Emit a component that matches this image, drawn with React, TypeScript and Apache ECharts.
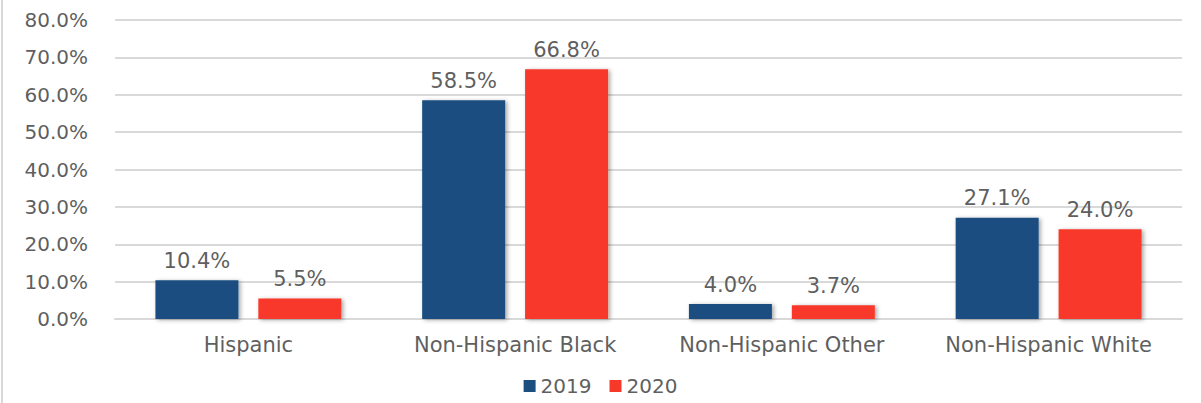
import React, { useEffect, useRef } from "react";
import * as echarts from "echarts";

const categories = ["Hispanic", "Non-Hispanic Black", "Non-Hispanic Other", "Non-Hispanic White"];
const values2019 = [10.4, 58.5, 4.0, 27.1];
const values2020 = [5.5, 66.8, 3.7, 24.0];
const seriesNames = ["2019", "2020"];

const FONT = "DejaVu Sans";
const TEXT = "#5f5f5f";

export default function App() {
  const ref = useRef<HTMLDivElement>(null);
  useEffect(() => {
    document.body.style.margin = "0";
    const chart = echarts.init(ref.current!, null, { renderer: "svg" });
    const barStyle = (color: string) => ({
      color,
      shadowColor: "rgba(0,0,0,0.35)",
      shadowBlur: 4,
      shadowOffsetX: 2,
      shadowOffsetY: 1,
    });
    const label = {
      show: true,
      position: "top" as const,
      distance: 9,
      color: TEXT,
      fontFamily: FONT,
      fontSize: 21,
      formatter: (p: any) => Number(p.value).toFixed(1) + "%",
    };
    chart.setOption({
      animation: false,
      backgroundColor: "#ffffff",
      textStyle: { fontFamily: FONT },
      graphic: [
        { type: "rect", shape: { x: 1, y: 0, width: 2, height: 403 }, style: { fill: "#d9d9d9" } },
      ],
      grid: { left: 115, right: 19, top: 20, bottom: 84 },
      legend: {
        bottom: 2,
        icon: "rect",
        itemWidth: 12,
        itemHeight: 12,
        itemGap: 18,
        itemTextGap: 6,
        textStyle: { color: TEXT, fontFamily: FONT, fontSize: 20 },
        data: seriesNames,
      },
      xAxis: {
        type: "category",
        data: categories,
        axisLine: { show: true, lineStyle: { color: "#d9d9d9", width: 2 } },
        axisTick: { show: false },
        axisLabel: { color: TEXT, fontFamily: FONT, fontSize: 21, margin: 15, interval: 0 },
      },
      yAxis: {
        type: "value",
        min: 0,
        max: 80,
        interval: 10,
        axisLine: { show: false },
        axisTick: { show: false },
        splitLine: { lineStyle: { color: "#d9d9d9", width: 2 } },
        axisLabel: {
          color: TEXT,
          fontFamily: FONT,
          fontSize: 20,
          margin: 27,
          formatter: (v: number) => v.toFixed(1) + "%",
        },
      },
      series: [
        {
          name: seriesNames[0],
          type: "bar",
          data: values2019,
          barWidth: 83,
          barGap: "24%",
          itemStyle: barStyle("#1C4E80"),
          label,
        },
        {
          name: seriesNames[1],
          type: "bar",
          data: values2020,
          barWidth: 83,
          itemStyle: barStyle("#F7392A"),
          label,
        },
      ],
    });
    return () => chart.dispose();
  }, []);
  return <div ref={ref} style={{ width: 1201, height: 403 }} />;
}
